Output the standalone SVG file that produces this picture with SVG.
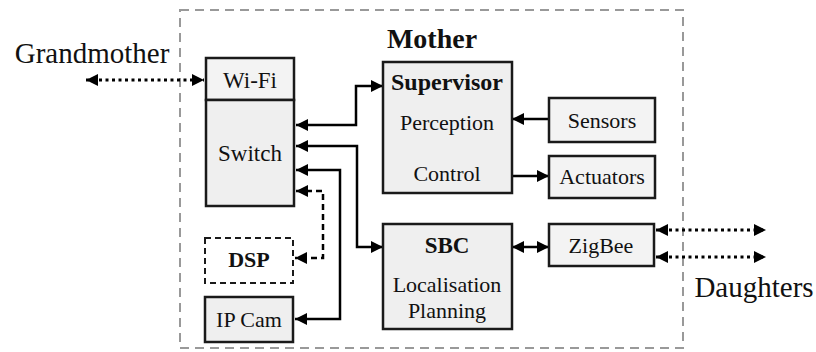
<svg xmlns="http://www.w3.org/2000/svg" width="816" height="352" viewBox="0 0 816 352">
<style>
  .box{fill:#efefef;stroke:#1a1a1a;stroke-width:2.5}
  .lt{fill:#f3f3f3}
  .dsp{fill:#fff;stroke:#1a1a1a;stroke-width:2;stroke-dasharray:6,4}
  .t{font-family:"Liberation Serif","Times New Roman",serif;font-size:22px;fill:#111;text-anchor:middle}
  .b{font-weight:bold}
  .big{font-size:29px}
  .c{fill:none;stroke:#000;stroke-width:2.5}
  .dash{stroke-dasharray:6,4}
  .dot{stroke-width:3;stroke-dasharray:3,3.5}
</style>
<defs>
  <marker id="ah" viewBox="0 0 12 12" refX="12" refY="6" markerWidth="14" markerHeight="12" markerUnits="userSpaceOnUse" orient="auto-start-reverse">
    <path d="M0,0 L12,6 L0,12 Z" fill="#000"/>
  </marker>
</defs>
<rect x="180" y="10" width="503" height="338" fill="none" stroke="#999" stroke-width="2" stroke-dasharray="9,6"/>
<text class="t b" x="432" y="48" style="font-size:28px">Mother</text>
<text class="t big" x="92" y="63">Grandmother</text>
<text class="t big" x="754" y="297">Daughters</text>
<g id="connectors">
  <path class="c dot" d="M86,80 H204" marker-start="url(#ah)" marker-end="url(#ah)"/>
  <path class="c" d="M296,125 H356 V86 H383" marker-start="url(#ah)" marker-end="url(#ah)"/>
  <path class="c" d="M296,146 H357 V247 H383" marker-start="url(#ah)" marker-end="url(#ah)"/>
  <path class="c" d="M296,170 H340 V319 H295" marker-start="url(#ah)" marker-end="url(#ah)"/>
  <path class="c dash" d="M296,191 H323 V258 H295" marker-start="url(#ah)" marker-end="url(#ah)"/>
  <path class="c" d="M549,119 H512" marker-end="url(#ah)"/>
  <path class="c" d="M510,176 H549" marker-end="url(#ah)"/>
  <path class="c" d="M512,247 H549" marker-start="url(#ah)" marker-end="url(#ah)"/>
  <path class="c dot" d="M656,230 H766" marker-start="url(#ah)" marker-end="url(#ah)"/>
  <path class="c dot" d="M656,257 H766" marker-start="url(#ah)" marker-end="url(#ah)"/>
</g>
<g id="wifi">
  <rect class="box lt" x="206" y="58" width="88" height="42"/>
  <text class="t" x="250" y="88" style="font-size:23px">Wi-Fi</text>
</g>
<g id="switch">
  <rect class="box" x="206" y="100" width="88" height="106"/>
  <text class="t" x="250" y="161" style="font-size:23px">Switch</text>
</g>
<g id="dsp">
  <rect class="dsp" x="205" y="238" width="88" height="45"/>
  <text class="t b" x="249" y="267">DSP</text>
</g>
<g id="ipcam">
  <rect class="box" x="205" y="297" width="88" height="45"/>
  <text class="t" x="249" y="327">IP Cam</text>
</g>
<g id="supervisor">
  <rect class="box" x="383" y="62" width="129" height="131"/>
  <text class="t b" x="447" y="90" style="font-size:24px">Supervisor</text>
  <text class="t" x="447" y="130">Perception</text>
  <text class="t" x="447" y="181">Control</text>
</g>
<g id="sensors">
  <rect class="box lt" x="549" y="98" width="106" height="44"/>
  <text class="t" x="602" y="128">Sensors</text>
</g>
<g id="actuators">
  <rect class="box lt" x="549" y="156" width="106" height="42"/>
  <text class="t" x="602" y="184">Actuators</text>
</g>
<g id="sbc">
  <rect class="box" x="383" y="224" width="129" height="105"/>
  <text class="t b" x="447" y="253" style="font-size:23px">SBC</text>
  <text class="t" x="447" y="292">Localisation</text>
  <text class="t" x="447" y="318">Planning</text>
</g>
<g id="zigbee">
  <rect class="box lt" x="549" y="224" width="105" height="42"/>
  <text class="t" x="601" y="253">ZigBee</text>
</g>
</svg>
